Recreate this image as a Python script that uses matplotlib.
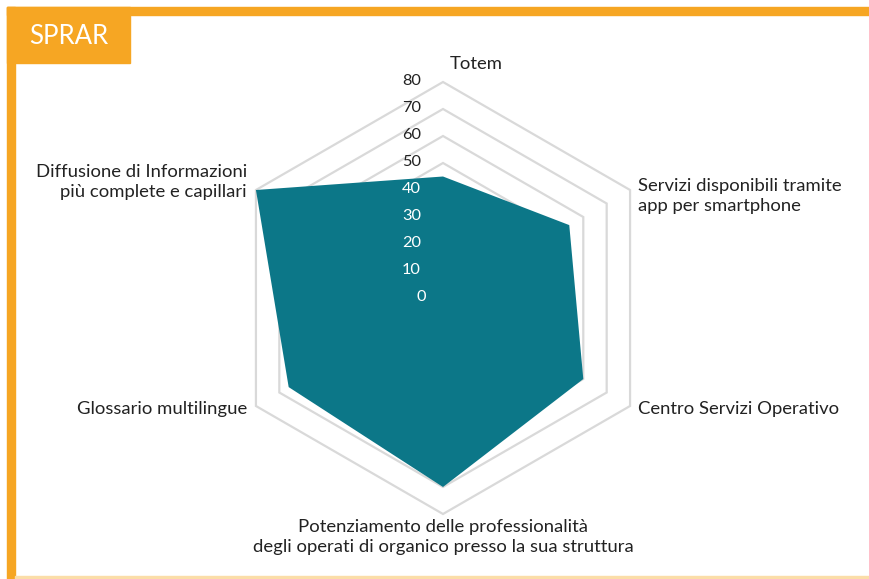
import matplotlib.pyplot as plt
import matplotlib.patches as mpatches
import numpy as np

plt.rcParams['font.family'] = ['Lato', 'DejaVu Sans']

# data
categories = ['Totem',
              'Servizi disponibili tramite\napp per smartphone',
              'Centro Servizi Operativo',
              'Potenziamento delle professionalità\ndegli operati di organico presso la sua struttura',
              'Glossario multilingue',
              'Diffusione di Informazioni\npiù complete e capillari']
values = [45, 54, 60, 70, 66, 80]
ticks = [0, 10, 20, 30, 40, 50, 60, 70, 80]
title = 'SPRAR'

orange = '#F6A623'
teal = '#0C7788'
grid_col = '#D9D9D9'

W, H = 869, 579
fig = plt.figure(figsize=(W / 100, H / 100), dpi=100)

# frame decoration (pixel coords -> figure fraction)
def fbox(x0, y0, x1, y1, color):
    fig.patches.append(mpatches.Rectangle((x0 / W, 1 - y1 / H), (x1 - x0) / W, (y1 - y0) / H,
                                          transform=fig.transFigure, color=color, zorder=0))

fbox(7, 7, W, 15, orange)
fbox(7, 7, 15, H, orange)
fbox(15, 576, W, 579, '#FBDDA8')
fbox(7, 7, 130, 63, orange)
fig.text(69 / W, 1 - 37 / H, title, color='white', fontsize=18.5, ha='center', va='center')

# radar axes: centre at (443, 298) px, 80 units = 216 px
cx, cy, scale = 443, 298, 216 / 80
ax = fig.add_axes([0, 0, 1, 1])
ax.set_xlim(-cx / scale, (W - cx) / scale)
ax.set_ylim(-(H - cy) / scale, cy / scale)
ax.axis('off')
ax.patch.set_alpha(0)

n = len(categories)
ang = np.pi / 2 - np.arange(n) * 2 * np.pi / n
ux, uy = np.cos(ang), np.sin(ang)

for t in ticks[1:]:
    ax.add_patch(mpatches.Polygon(np.column_stack([ux * t, uy * t]), closed=True,
                                  fill=False, edgecolor=grid_col, lw=1.6, zorder=1))

v = np.array(values)
ax.add_patch(mpatches.Polygon(np.column_stack([ux * v, uy * v]), closed=True,
                              facecolor=teal, edgecolor='none', zorder=2))

for t in ticks:
    col = 'white' if t <= values[0] - 3 else '#222222'
    xr = -17 if t < 10 else -22
    ax.text(xr / scale, t + 1 / scale, str(t), ha='right', va='center',
            fontsize=11.8, color=col, zorder=3)

# category labels (px positions)
label_pos = [((476, 64), 'center'), ((638, 196), 'left'), ((638, 409), 'left'),
             ((443, 537), 'center'), ((247, 409), 'right'), ((247, 182), 'right')]
for lab, ((px, py), ha) in zip(categories, label_pos):
    ax.text((px - cx) / scale, (cy - py) / scale, lab, ha=ha, va='center',
            fontsize=13.3, color='#222222', linespacing=1.32, multialignment=ha)

fig.savefig('out.png', dpi=100)
